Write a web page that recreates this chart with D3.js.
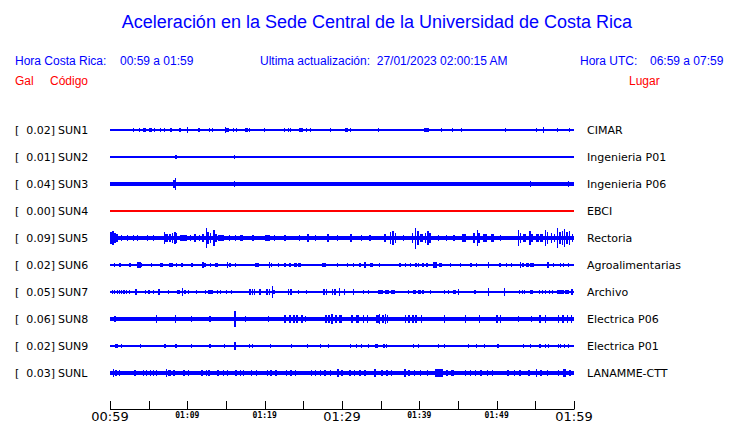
<!DOCTYPE html>
<html><head><meta charset="utf-8">
<script src="https://cdn.jsdelivr.net/npm/d3@7"></script>
<style>body{margin:0;background:#fff}svg{display:block}</style>
</head><body>
<script>
// ---- DATA ----
const codes  = ["SUN1","SUN2","SUN3","SUN4","SUN5","SUN6","SUN7","SUN8","SUN9","SUNL"];
const peaks  = [0.02, 0.01, 0.04, 0.00, 0.09, 0.02, 0.05, 0.06, 0.02, 0.03];
const places = ["CIMAR","Ingenieria P01","Ingenieria P06","EBCI","Rectoria","Agroalimentarias","Archivo","Electrica P06","Electrica P01","LANAMME-CTT"];
const traceColors = ["blue","blue","blue","red","blue","blue","blue","blue","blue","blue"];
// background noise level of each trace (relative amplitude)
const noise  = [0.3, 0.3, 1.1, 0.3, 1.25, 0.3, 0.3, 1.3, 0.3, 1.15];
// minute ticks (minutes after 00:59)
const tickMinutes = [0,5,10,15,20,25,30,35,40,45,50,55,60];
const majorLabels = {0:"00:59", 30:"01:29", 60:"01:59"};
const minorLabels = {10:"01:09", 20:"01:19", 40:"01:39", 50:"01:49"};
// events: [minute, relative amplitude, duration in minutes]
const ev1 = [[3.0,1,.1],[3.8,1,.1],[4.1,0.8,.1],[4.5,1.3,.4],[5.2,1.3,.4],[5.7,1,.1],[6.5,1,.1],[7.0,1,.1],[7.9,1.3,.3],[8.4,0.8,.1],[9.05,1.3,.3],[9.6,0.8,.1],[10.0,2.5,.15],[11.5,1.3,.3],[12.9,1,.1],[13.2,1,.1],[14.9,2.5,.15],[15.2,1.3,.4],[15.9,1,.1],[16.4,1,.1],[17.7,1.3,.4],[18.0,1,.1],[18.45,0.8,.1],[20.0,1,.1],[20.3,0.8,.1],[20.9,0.8,.1],[22.6,1,.1],[23.1,1,.1],[23.3,1,.1],[23.8,0.8,.1],[24.7,1.3,.4],[25.4,1,.1],[25.9,1.3,.2],[26.8,0.8,.1],[28.5,1,.1],[30.6,1.3,.3],[31.1,1,.1],[31.9,0.8,.1],[32.4,0.8,.1],[34.7,1,.1],[39.1,0.8,.1],[40.95,1.3,.6],[42.9,1,.1],[44.3,1,.1],[45.5,1,.1],[47.3,0.8,.1],[51.1,1,.1],[52.4,0.8,.1],[53.4,0.8,.1],[54.0,0.8,.1],[55.2,1,.1],[56.0,2,.1],[56.5,0.8,.1],[57.5,0.8,.1],[57.8,1,.1],[58.1,0.8,.1],[59.4,1,.1]];
const ev2 = [[8.5,1.3,.25],[16.1,1.3,.25]];
const ev3 = [[0.3,1.5,.4],[0.65,1.5,.1],[3.23,1.5,.1],[6.9,1.5,.1],[8.3,3,.3],[8.5,5.5,.15],[9.27,1.5,.1],[10.34,1.5,.1],[12.28,1.5,.1],[14.0,1.5,.1],[16.1,2.5,.15],[20.26,1.5,.1],[21.33,1.5,.1],[22.63,1.5,.1],[25.2,1.5,.1],[27.4,1.5,.1],[29.5,1.5,.1],[32.1,1.5,.1],[34.3,1.5,.1],[36.6,1.5,.1],[38.6,1.5,.1],[40.7,1.5,.1],[45.5,1.5,.1],[48.5,1.5,.1],[51.3,1.5,.1],[54.25,1.35,11.5],[54.4,2.2,.15],[59.3,2.2,.15]];
const ev4 = [];
const ev5 = [[0.1,5.5,.3],[0.35,6,.3],[0.6,4,.3],[0.9,3,.2],[1.5,2.5,.1],[2.2,2.5,.1],[3.0,2.5,.1],[3.6,2.5,.1],[4.8,2.5,.1],[5.6,2.5,.1],[7.0,5,.15],[7.3,3,.3],[7.8,3.5,.3],[8.1,4.5,.2],[8.4,5.5,.15],[8.6,4,.2],[9.5,2.7,.8],[10.4,2.5,.1],[11.0,3,.2],[11.6,2.5,.1],[12.0,3.5,.2],[12.5,9,.15],[12.7,5,.3],[13.0,4,.2],[13.45,7,.15],[13.7,3,.2],[14.4,2.6,.8],[15.5,2.5,.1],[16.2,2.5,.1],[17.0,2.5,.3],[18.5,2.5,.2],[20.4,2.6,.6],[21.3,2.5,.1],[22.6,2.5,.2],[24.5,2.5,.1],[25.6,3,.3],[26.6,2.5,.1],[28.2,3,.3],[29.4,2.5,.2],[31.2,2.8,.3],[32.5,2.5,.2],[33.6,2.5,.2],[35.6,3,.3],[36.3,5,.2],[36.6,6,.2],[36.9,4,.2],[38.0,2.5,.1],[39.1,4,.2],[39.5,10,.2],[39.8,6,.2],[40.3,3,.3],[40.8,4.5,.2],[41.1,6,.2],[41.4,4,.2],[42.5,2.5,.1],[43.5,2.5,.1],[44.5,2.5,.2],[45.8,2.8,.5],[47.1,4,.2],[47.5,7.5,.15],[47.7,4,.2],[48.5,3,.6],[49.5,3,.4],[50.5,2.5,.2],[52.8,7,.15],[53.1,4,.2],[53.6,3,.3],[54.3,6,.15],[54.6,3,.3],[55.3,3,.3],[55.8,3,.3],[56.3,7,.15],[56.6,5,.2],[57.1,4,.2],[57.5,3.5,.2],[57.9,9.5,.15],[58.2,5,.2],[58.5,6,.2],[58.8,8,.15],[59.1,5,.2],[59.4,6,.15],[59.8,3,.2]];
const ev6 = [[0.56,1.3,.15],[1.29,1.3,.3],[2.58,1.3,.3],[3.6,1.8,.3],[3.9,2,.2],[4.1,1.5,.2],[5.39,1,.1],[6.68,1.3,.4],[7.76,1.5,.3],[8.0,1.2,.2],[8.62,1,.1],[9.35,1.3,.3],[10.56,1.3,.3],[12.0,1.8,.3],[12.3,1.3,.2],[12.93,1,.1],[13.79,1.3,.3],[15.2,1.8,.15],[15.5,1.2,.2],[16.16,1.3,.1],[18.96,1.3,.5],[20.6,1.8,.1],[20.9,1,.1],[21.76,1.3,.2],[22.63,1.3,.3],[23.27,1.3,.2],[24.0,1.3,.4],[24.5,1.3,.3],[27.67,1.3,.4],[29.4,1.1,.1],[30.73,1.1,.1],[31.46,1.3,.2],[32.32,1.5,.3],[32.97,1.8,.15],[33.83,1.3,.3],[34.78,1.1,.1],[37.49,1.1,.2],[38.14,1.1,.1],[38.79,1.1,.1],[39.6,1.3,.2],[39.9,1.6,.15],[40.5,1.5,.2],[41.0,1.3,.2],[42.02,2,.4],[42.75,1.5,.3],[43.96,1.1,.1],[45.25,1.1,.1],[46.67,1.3,.3],[47.41,1.3,.2],[48.92,2,.2],[50.42,1.3,.2],[51.2,1.3,.1],[51.85,1.1,.1],[53.1,2,.2],[53.4,1.5,.2],[54.0,1.3,.3],[54.6,1.3,.5],[56.67,1.8,.2],[57.32,1.1,.1],[58.18,1.1,.1],[58.61,1.1,.1],[59.26,1.1,.1]];
const ev7 = [[0.3,1,.1],[0.6,1,.1],[0.9,1,.1],[1.2,1,.1],[1.5,1,.1],[1.8,1.2,.2],[2.15,1.5,.15],[2.5,1,.1],[3.32,2,.3],[4.6,1.2,.2],[5.0,1.2,.3],[5.6,1.2,.1],[6.33,2.5,.15],[7.54,1,.1],[8.8,1.2,.4],[9.35,3,.15],[9.7,1.2,.2],[10.1,1,.1],[11.2,1,.1],[12.28,1,.1],[13.0,1.3,.6],[13.9,1.2,.2],[14.3,1.2,.2],[15.1,1,.1],[15.73,1,.1],[18.1,2,.3],[18.4,2.5,.2],[18.7,1.8,.2],[19.4,2,.3],[20.3,2.5,.2],[20.6,2,.2],[20.99,5.5,.1],[21.2,1.5,.2],[23.1,2.5,.2],[23.4,2,.2],[24.35,1,.1],[25.43,1,.1],[27.7,1.8,.2],[28.0,2,.2],[28.8,2.5,.2],[29.1,2,.2],[29.7,3,.15],[30.3,2.3,.2],[31.46,2,.2],[32.75,1,.1],[33.4,1,.1],[35.0,1.3,.6],[35.8,1.3,.6],[36.6,1.3,.6],[38.57,1,.1],[39.4,1.3,.4],[40.0,1.3,.4],[40.5,1.2,.2],[41.4,1.2,.1],[43.3,1,.1],[43.7,1,.1],[44.6,1.5,.4],[45.1,2.5,.15],[47.2,1.2,.3],[48.92,3,.15],[51.0,3,.15],[52.9,1,.1],[53.3,1,.1],[53.6,1,.1],[54.5,1.3,.4],[55.5,1,.1],[55.9,1,.1],[56.3,1,.1],[56.8,1,.1],[57.2,1,.1],[58.0,1.5,.3],[58.5,1.5,.5],[59.1,1.5,.5],[59.7,1.8,.3]];
const ev8 = [[0.65,2.5,.15],[6.03,2.8,.15],[8.5,2.8,.15],[10.5,2.5,.1],[12.93,2.5,.15],[16.16,7.7,.2],[17.5,2.5,.1],[20.5,2.5,.1],[22.6,2.8,.2],[23.3,3.5,.2],[23.8,3,.3],[24.2,3.5,.2],[24.8,3,.2],[25.3,2.6,.1],[27.9,3,.2],[28.3,3.5,.3],[28.7,4.5,.15],[29.2,3.5,.3],[29.8,3,.4],[31.3,2.8,.2],[32.0,2.8,.3],[32.8,2.8,.2],[33.3,2.8,.2],[34.6,3.5,.3],[34.9,4.5,.15],[35.3,3.5,.3],[35.6,4,.2],[35.9,3,.2],[38.2,2.8,.2],[38.7,3,.3],[39.2,3,.2],[39.6,2.8,.3],[40.3,3,.2],[43.3,2.8,.1],[45.9,2.8,.1],[47.8,2.8,.1],[50.0,3,.3],[50.5,2.8,.2],[52.8,2.5,.1],[54.5,2.5,.1],[55.6,3,.15],[56.3,3,.15],[58.0,2.8,.2],[58.6,3,.3],[59.2,2.8,.1],[59.7,2.8,.2]];
const ev9 = [[0.86,1.3,.3],[1.42,1,.1],[3.97,1,.1],[7.11,1.2,.15],[8.5,1.3,.3],[10.56,1,.1],[12.93,1,.15],[14.78,1,.1],[16.16,2.8,.15],[17.97,1,.1],[18.4,1,.1],[20.68,1,.1],[23.5,1,.1],[25.5,1,.1],[27.15,1,.1],[28.3,1.2,.1],[31.03,1,.1],[31.9,1.2,.1],[32.54,1,.1],[33.4,1,.1],[34.48,1.3,.3],[35.47,1.3,.3],[35.7,1,.1],[39.2,1,.1],[39.87,1,.1],[42.45,1,.1],[43.3,1.2,.1],[46.3,1,.1],[47.4,1.2,.1],[48.4,1.2,.1],[50.2,1.2,.2],[53.4,1,.1],[54.3,1,.1],[55.6,1.2,.15],[56.25,1,.1],[56.7,1,.1],[57.97,1,.1],[58.3,1.1,.1],[58.8,1,.1],[59.26,1,.1]];
const evL = [[0.43,3,.2],[0.8,2.5,.2],[1.2,2.2,.1],[3.2,2.5,.3],[4.3,2.2,.1],[4.7,2.5,.2],[5.2,2.2,.1],[5.6,2.5,.2],[6.0,2.2,.1],[7.3,3.5,.15],[7.7,2.5,.3],[8.3,2.5,.2],[9.6,2.5,.3],[10.2,2.2,.1],[11.9,2.5,.2],[12.4,2.2,.1],[12.8,2.5,.2],[14.0,2.5,.2],[14.6,2.2,.1],[15.2,2.5,.2],[16.3,2.5,.2],[16.8,2.2,.1],[17.3,2.5,.1],[18.3,2.5,.2],[18.9,2.2,.1],[20.3,2.2,.1],[20.8,2.5,.3],[21.5,2.5,.2],[22.8,2.5,.2],[23.4,2.5,.2],[24.0,2.2,.1],[26.1,2.2,.1],[26.6,2.5,.2],[27.2,2.2,.1],[27.8,2.5,.2],[28.5,2.2,.1],[29.5,3,.2],[30.0,2.5,.3],[31.0,2.5,.2],[31.6,2.5,.2],[32.3,2.5,.3],[33.0,2.5,.2],[34.26,3.5,.15],[35.2,2.5,.2],[35.8,2.5,.2],[36.4,2.2,.1],[38.14,3.5,.2],[38.7,2.5,.3],[39.4,2.5,.2],[40.2,2.2,.1],[41.0,2.2,.1],[42.5,2.8,1.0],[43.6,2.5,.2],[44.3,2.5,.3],[46.0,2.2,.1],[46.6,2.5,.2],[47.2,2.2,.1],[48.0,2.5,.3],[48.8,2.5,.2],[49.4,2.2,.1],[51.5,2.5,.3],[52.3,2.2,.1],[53.0,2.5,.2],[54.2,2.5,.2],[55.17,3,.15],[55.7,2.5,.3],[56.5,2.2,.1],[58.0,2.5,.2],[58.8,2.8,.4],[59.5,2.5,.2]];
const events = [ev1, ev2, ev3, ev4, ev5, ev6, ev7, ev8, ev9, evL];

// ---- CHART ----
const W = 740, H = 423;
const svg = d3.select("body").append("svg").attr("width", W).attr("height", H);
const blue = "#0000ff", red = "#ff0000";
const hf = "'Liberation Sans', Arial, Helvetica, sans-serif";
const df = "'DejaVu Sans', sans-serif";

svg.append("text").attr("x", 377).attr("y", 28).attr("text-anchor", "middle")
  .attr("font-family", hf).attr("font-size", 18).attr("fill", blue)
  .text("Aceleración en la Sede Central de la Universidad de Costa Rica");

const hdr = [
  [15, 65, "Hora Costa Rica:", blue], [120, 65, "00:59 a 01:59", blue],
  [260, 65, "Ultima actualización:  27/01/2023 02:00:15 AM", blue],
  [580, 65, "Hora UTC:", blue], [650, 65, "06:59 a 07:59", blue],
  [15, 85, "Gal", red], [50, 85, "Código", red], [629, 85, "Lugar", red]
];
svg.selectAll("text.hdr").data(hdr).join("text").attr("class", "hdr")
  .attr("x", d => d[0]).attr("y", d => d[1]).attr("fill", d => d[3])
  .attr("font-family", hf).attr("font-size", 12).style("white-space", "pre")
  .text(d => d[2]);

const x = d3.scaleLinear().domain([0, 60]).range([110, 574]);
const y = d3.scalePoint().domain(codes).range([130, 373]);
const amp = d3.scaleLinear().domain([0, 1, 10]).range([0, 1.8, 10.5]);

const rows = svg.selectAll("g.row").data(codes).join("g").attr("class", "row");

rows.each(function(code, i) {
  const g = d3.select(this);
  const cy = y(code);
  const col = traceColors[i] === "red" ? red : blue;
  g.append("text").attr("x", 15).attr("y", cy + 4).attr("font-family", df).attr("font-size", 11).text("[");
  g.append("text").attr("x", 55).attr("y", cy + 4).attr("text-anchor", "end").attr("font-family", df).attr("font-size", 11).text(peaks[i].toFixed(2) + "]");
  g.append("text").attr("x", 58).attr("y", cy + 4).attr("font-family", df).attr("font-size", 11).text(code);
  g.append("text").attr("x", 587).attr("y", cy + 4).attr("font-family", df).attr("font-size", 11).text(places[i]);
  const nb = Math.max(amp(noise[i]), 0.5);
  g.append("rect").attr("x", x(0)).attr("width", x(60) - x(0))
    .attr("y", cy - nb).attr("height", 2 * nb).attr("fill", col).attr("shape-rendering", "crispEdges");
  g.selectAll("rect.ev").data(events[i]).join("rect").attr("class", "ev")
    .attr("x", d => x(Math.max(0, d[0] - d[2] / 2)))
    .attr("width", d => Math.max(1, x(Math.min(60, d[0] + d[2] / 2)) - x(Math.max(0, d[0] - d[2] / 2))))
    .attr("y", d => cy - amp(d[1])).attr("height", d => 2 * amp(d[1]))
    .attr("fill", col).attr("shape-rendering", "crispEdges");
});

// axis
const ax = svg.append("g");
ax.append("line").attr("x1", x(0)).attr("x2", x(60)).attr("y1", 409.5).attr("y2", 409.5).attr("stroke", "#000");
ax.selectAll("line.tk").data(tickMinutes).join("line").attr("class", "tk")
  .attr("x1", d => Math.round(x(d)) + 0.5).attr("x2", d => Math.round(x(d)) + 0.5)
  .attr("y1", 401).attr("y2", 409.5).attr("stroke", "#000");
ax.selectAll("text.maj").data(Object.keys(majorLabels).map(Number)).join("text").attr("class", "maj")
  .attr("x", d => x(d)).attr("y", 421).attr("text-anchor", "middle")
  .attr("font-family", df).attr("font-size", 13).text(d => majorLabels[d]);
ax.selectAll("text.min").data(Object.keys(minorLabels).map(Number)).join("text").attr("class", "min")
  .attr("x", d => x(d)).attr("y", 417.5).attr("text-anchor", "middle")
  .attr("font-family", "'DejaVu Sans Mono', monospace").attr("font-weight", "bold").attr("font-size", 8).text(d => minorLabels[d]);
</script>
</body></html>
